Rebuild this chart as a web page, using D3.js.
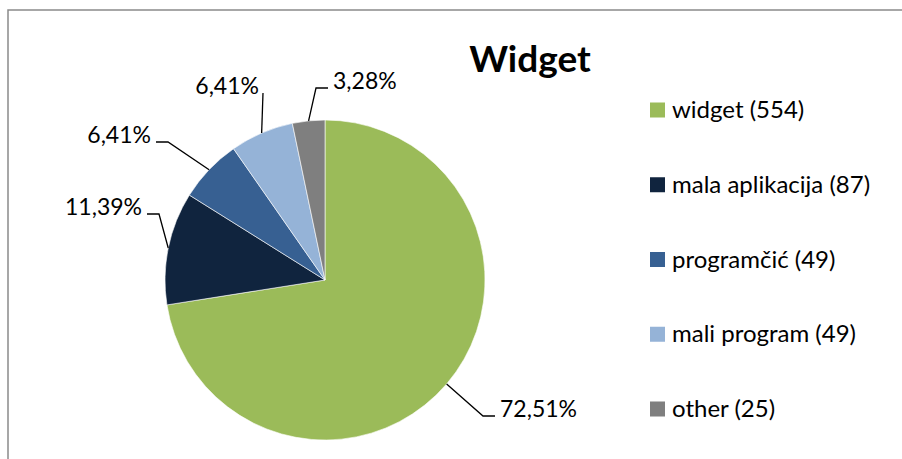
<!DOCTYPE html>
<html lang="hr">
<head>
<meta charset="utf-8">
<title>Widget</title>
<script src="https://cdn.jsdelivr.net/npm/d3@7"></script>
<style>
  body { margin: 0; background: #fff; }
  text { font-family: Lato, "Open Sans", sans-serif; fill: #000; }
</style>
</head>
<body>
<div id="chart"></div>
<script>
// data
var categories = ["widget", "mala aplikacija", "programčić", "mali program", "other"];
var counts = [554, 87, 49, 49, 25];
var percentLabels = ["72,51%", "11,39%", "6,41%", "6,41%", "3,28%"];
var colors = ["#9BBB59", "#10243E", "#376092", "#95B3D7", "#7F7F7F"];

// label elbow points (relative to pie centre) and which side the text sits
var labelElbows = [[158, 136], [-166, -66], [-157, -138], [-62, -187], [-9, -192]];
var labelSides = [1, -1, -1, 0, 1];

var width = 902, height = 459;
var cx = 325, cy = 280, radius = 160;

var svg = d3.select("#chart").append("svg")
    .attr("width", width)
    .attr("height", height);

// chart frame (only top and left edges are inside the picture)
svg.append("rect")
    .attr("x", 8).attr("y", 10)
    .attr("width", 1000).attr("height", 1000)
    .style("fill", "none")
    .style("stroke", "#8a8a8a")
    .style("stroke-width", 1.5);

svg.append("text")
    .attr("x", 530).attr("y", 72)
    .attr("text-anchor", "middle")
    .style("font-size", "37px")
    .style("font-weight", "bold")
    .text("Widget");

var pie = d3.pie().sort(null).value(function(d) { return d; });
var arcs = pie(counts);
var arc = d3.arc().innerRadius(0).outerRadius(radius);

var g = svg.append("g").attr("transform", "translate(" + cx + "," + cy + ")");

g.selectAll("path.slice")
    .data(arcs)
    .enter().append("path")
    .attr("class", "slice")
    .attr("d", arc)
    .style("fill", function(d, i) { return colors[i]; })
    .style("stroke", "#fff")
    .style("stroke-width", 0.6);

// leader lines + labels
arcs.forEach(function(d, i) {
    var mid = (d.startAngle + d.endAngle) / 2;
    var ex = radius * Math.sin(mid), ey = -radius * Math.cos(mid);
    var el = labelElbows[i];
    var side = labelSides[i];
    var endX = el[0] + side * 12;
    g.append("path")
        .attr("d", d3.line()([[ex, ey], el, [endX, el[1]]]))
        .style("fill", "none")
        .style("stroke", "#000")
        .style("stroke-width", 1.3);
    var tx = side === 0 ? el[0] - 4 : endX + side * 5;
    g.append("text")
        .attr("x", tx)
        .attr("y", el[1] + 1)
        .attr("text-anchor", side === 1 ? "start" : "end")
        .style("font-size", "23px")
        .text(percentLabels[i]);
});

// legend
var ly = d3.scalePoint().domain(categories).range([110, 409]);
var legend = svg.selectAll("g.legend")
    .data(categories)
    .enter().append("g")
    .attr("class", "legend")
    .attr("transform", function(d) { return "translate(650," + ly(d) + ")"; });

legend.append("rect")
    .attr("x", 0).attr("y", -7.5)
    .attr("width", 15).attr("height", 15)
    .style("fill", function(d, i) { return colors[i]; });

legend.append("text")
    .attr("x", 22).attr("y", 8)
    .style("font-size", "24px")
    .text(function(d, i) { return d + " (" + counts[i] + ")"; });
</script>
</body>
</html>
